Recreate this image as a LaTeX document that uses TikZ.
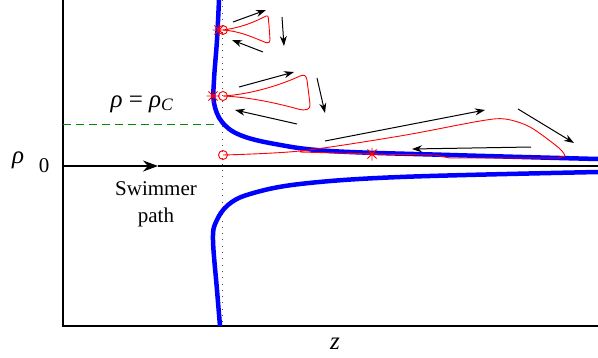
\documentclass[tikz,border=0pt]{standalone}
\usepackage{fontspec}
\setmainfont{Liberation Serif}
\newfontfamily\tms{Liberation Serif}
\usetikzlibrary{arrows.meta,calc}
\tikzset{
  ax/.style={black, line width=1.2pt},
  blueline/.style={blue, line width=4.5pt},
  loopline/.style={red, line width=0.9pt},
  flow/.style={black, line width=1pt, -{Stealth[length=10pt,width=7pt]}},
  mark circ/.style={red, line width=0.9pt},
  lbl/.style={font=\tms\fontsize{21}{24}\selectfont, inner sep=0pt},
  biglbl/.style={font=\tms\fontsize{25}{28}\selectfont, inner sep=0pt},
}
\newcommand{\redstar}[1]{%
  \draw[red, line width=0.9pt] ($#1+(-6.5,0)$) -- ($#1+(6.5,0)$)
    ($#1+(0,-6.5)$) -- ($#1+(0,6.5)$)
    ($#1+(-4.6,-4.6)$) -- ($#1+(4.6,4.6)$)
    ($#1+(-4.6,4.6)$) -- ($#1+(4.6,-4.6)$);}
\begin{document}
\begin{tikzpicture}[x=1pt,y=-1pt]
\useasboundingbox (0,0) rectangle (598,357);
% axes
\draw[ax] (63,0) -- (63,326) -- (598,326);
\coordinate (o) at (63,166);
\coordinate (mid) at (158,166);
\coordinate (e) at (598,166);
\draw[ax, -{Stealth[length=15pt,width=11pt]}] (o) -- (mid);
\draw[ax] (mid) -- (e);
% dashed green
\draw[green!55!black, dash pattern=on 8pt off 5pt, line width=1pt] (63,124) -- (217,124);
% dotted
\draw[black!70, line width=1pt, dash pattern=on 0.8pt off 5.5pt] (222,0) -- (222,326);
% blue curves
\draw[blueline] plot[smooth, tension=0.6] coordinates {(219,0) (217,40) (214,80) (214,103) (222,122) (240,135) (275,144) (330,151) (450,155) (598,159)};
\draw[blueline] plot[smooth, tension=0.6] coordinates {(220,326) (217,290) (213,240) (216,222) (228,205) (250,194) (300,184) (400,177) (598,172)};
% red loops
\draw[loopline] (223,30) .. controls (245,27) and (258,20) .. (266,16) .. controls (269,15) and (268,18) .. (269,25) -- (270,40) .. controls (270,44) and (266,43) .. (262,41) .. controls (250,36) and (238,31) .. (223,30);
\draw[loopline] (223,96) .. controls (255,94) and (285,83) .. (300,76) .. controls (305,74) and (306,76) .. (307,80) -- (310,104) .. controls (311,110) and (305,111) .. (298,109) .. controls (280,104) and (250,97) .. (223,96);
\draw[loopline] plot[smooth, tension=0.5] coordinates {(223,155) (300,151) (400,136) (480,121) (505,119) (530,127) (559,148) (565,156)} -- (558,158) -- (450,158) -- (435,155) -- (372,154) -- (300,152);
% markers
\foreach \p in {(223,30),(223,96),(223,155)} \draw[mark circ] \p circle (4.5);
\redstar{(219,30)}
\redstar{(213,96)}
\redstar{(372,154)}
% flow arrows
\draw[flow] (233,22) -- (266,10);
\draw[flow] (282,17) -- (284,46);
\draw[flow] (263,52) -- (232,40);
\draw[flow] (239,87) -- (294,72);
\draw[flow] (317,78) -- (325,113);
\draw[flow] (297,124) -- (235,110);
\draw[flow] (325,141) -- (485,110);
\draw[flow] (518,109) -- (574,143);
\draw[flow] (531,147) -- (412,149);
% labels
\node[biglbl] (rho) at (18,160) {\itshape ρ};
\node[lbl] (zero) at (44,166) {0};
\node[biglbl] (rhoc) at (142,104) {\itshape ρ\/ \upshape= \itshape ρ\textsubscript{\itshape C}};
\node[lbl, align=center, font=\tms\fontsize{21}{27}\selectfont] (sw) at (156,204) {Swimmer\\path};
\node[biglbl] (z) at (335,344) {\itshape z};
\end{tikzpicture}
\end{document}
